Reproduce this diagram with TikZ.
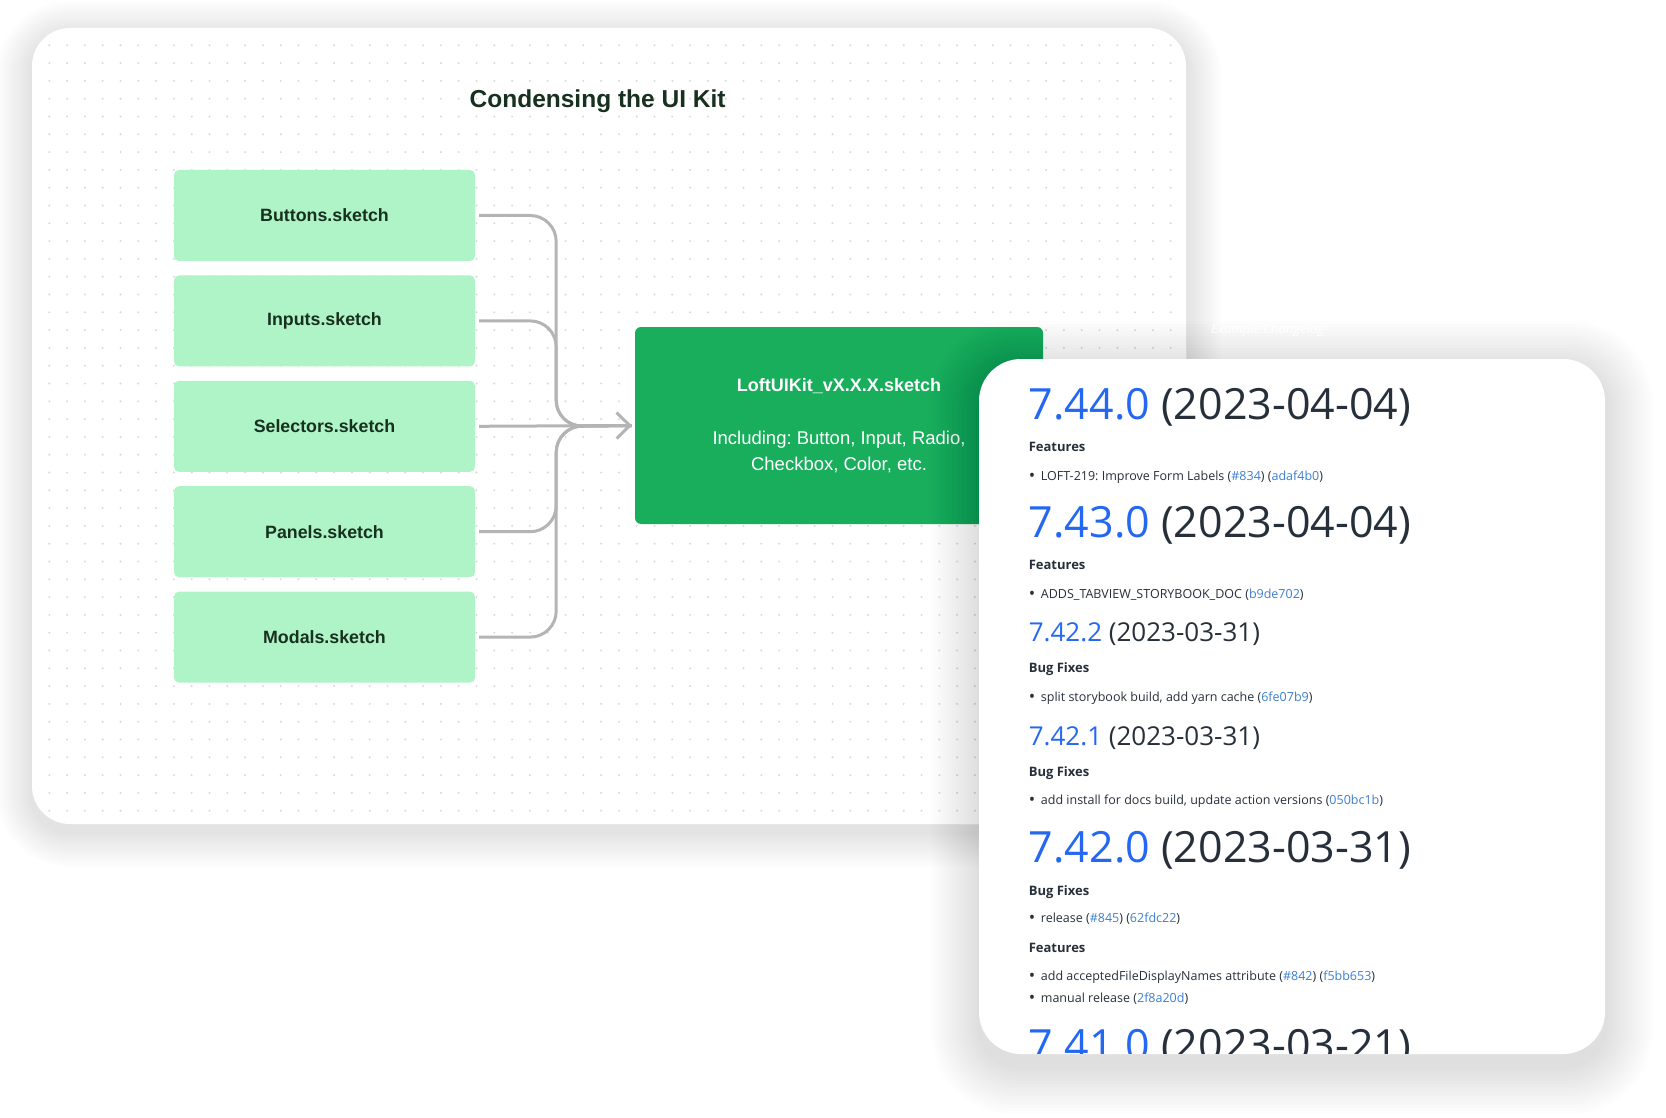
\documentclass[tikz,border=0pt]{standalone}
\usepackage{fontspec}
\setmainfont{Liberation Sans}
\newfontfamily\logfont{Open Sans}
\usetikzlibrary{positioning,arrows.meta}
\frenchspacing

\definecolor{mint}{HTML}{AFF4C6}
\definecolor{kitgreen}{HTML}{18AE5C}
\definecolor{inkgreen}{HTML}{17301F}
\definecolor{wire}{HTML}{B4B4B4}
\definecolor{gridgray}{HTML}{D9D9D9}
\definecolor{verblue}{HTML}{2468F2}
\definecolor{linkblue}{HTML}{3D7FD0}
\definecolor{logink}{HTML}{27303A}

\newcommand{\commit}[1]{\textcolor{linkblue}{#1}}
\newcommand{\ver}[1]{\textcolor{verblue}{#1}}
\newcommand{\bull}{\makebox[12.1pt][l]{\raisebox{-1.2pt}{\fontsize{17}{15}\selectfont•}}}

\tikzset{
  sketch/.style={fill=mint, rounded corners=5pt, minimum width=301pt, minimum height=91pt,
    text=inkgreen, font=\fontsize{17.8}{21}\selectfont\bfseries},
  kitbox/.style={fill=kitgreen, rounded corners=6pt, minimum width=408pt, minimum height=197pt,
    text=white, align=center, inner sep=0pt, font=\fontsize{18.5}{26}\selectfont},
  link/.style={draw=wire, line width=3pt, rounded corners=26pt},
  major/.style={anchor=base west, inner sep=0pt, text=logink, font=\logfont\fontsize{43}{50}\selectfont},
  minor/.style={anchor=base west, inner sep=0pt, text=logink, font=\logfont\fontsize{26}{30}\selectfont},
  sect/.style={anchor=base west, inner sep=0pt, text=logink, font=\logfont\bfseries\fontsize{13}{15}\selectfont},
  entry/.style={anchor=base west, inner sep=0pt, text=logink, font=\logfont\fontsize{12.5}{15}\selectfont}
}

\begin{document}
\begin{tikzpicture}[x=1pt, y=-1pt]
\useasboundingbox (0,0) rectangle (1666,1118);

\foreach \s [evaluate=\s as \r using 38+2.5*\s] in {1,...,14}
  \fill[black, opacity=.009, rounded corners=\r pt] (32-2.5*\s, 36-2.5*\s) rectangle (1186+2.5*\s, 832+2.5*\s);
\fill[white, rounded corners=38pt] (32,28) rectangle (1186,824);
\begin{scope}
  \clip[rounded corners=38pt] (32,28) rectangle (1186,824);
  \foreach \i in {0,...,63}
    \foreach \j in {0,...,43}
      \fill[gridgray] (49.3+17.8*\i, 45.3+17.8*\j) circle (1.1pt);
\end{scope}

\node[text=inkgreen, font=\fontsize{24.5}{28}\selectfont\bfseries] (title) at (597.6,101) {Condensing the UI Kit};

\node[sketch] (buttons) at (324.5,215.5) {Buttons.sketch};
\node[sketch, below=14pt of buttons] (inputs) {Inputs.sketch};
\node[sketch, below=14pt of inputs] (selectors) {Selectors.sketch};
\node[sketch, below=14pt of selectors] (panels) {Panels.sketch};
\node[sketch, below=14pt of panels] (modals) {Modals.sketch};

\node[kitbox] (kit) at (839,425.5) {{\fontsize{18}{26}\selectfont\bfseries LoftUIKit\_vX.X.X.sketch}\\[27pt]
  Including: Button, Input, Radio,\\ Checkbox, Color, etc.};

\coordinate (merge) at ([xshift=81pt]selectors.east);
\draw[link] ([xshift=4pt]buttons.east) -| (merge) -- ([xshift=-3pt]kit.west);
\draw[link] ([xshift=4pt]inputs.east) -| (merge) -- ([xshift=-3pt]kit.west);
\draw[link] ([xshift=4pt]panels.east) -| (merge) -- ([xshift=-3pt]kit.west);
\draw[link] ([xshift=4pt]modals.east) -| (merge) -- ([xshift=-3pt]kit.west);
\draw[link, -{Straight Barb[length=13pt, width=26pt]}] ([xshift=4pt]selectors.east) -- ([xshift=-3pt]kit.west);

\foreach \s [evaluate=\s as \r using 42+2.5*\s] in {1,...,16}
  \fill[black, opacity=.008, rounded corners=\r pt] (979-3*\s, 369-3*\s) rectangle (1605+3*\s, 1066+3*\s);
\node[anchor=base west, inner sep=0pt, text=white, font=\logfont\itshape\fontsize{13}{15}\selectfont] (caption) at (1211,334) {Example Changelog};
\fill[white, rounded corners=42pt] (979,359) rectangle (1605,1054);

\begin{scope}
  \clip[rounded corners=42pt] (979,359) rectangle (1605,1053);
  \node[major] (v744) at (1028.6,419) {\ver{7.44.0} (2023-04-04)};
  \node[sect] (f744) at (1028.6,451.7) {Features};
  \node[entry] (i744) at (1028.6,480) {\bull LOFT-219: Improve Form Labels (\commit{\#834}) (\commit{adaf4b0})};
  \node[major] (v743) at (1028.6,537.3) {\ver{7.43.0} (2023-04-04)};
  \node[sect] (f743) at (1028.6,569.3) {Features};
  \node[entry] (i743) at (1028.6,598.3) {\bull ADDS\_TABVIEW\_STORYBOOK\_DOC (\commit{b9de702})};
  \node[minor] (v7422) at (1028.6,641.7) {\ver{7.42.2} (2023-03-31)};
  \node[sect] (b7422) at (1028.6,672.7) {Bug Fixes};
  \node[entry] (i7422) at (1028.6,701) {\bull split storybook build, add yarn cache (\commit{6fe07b9})};
  \node[minor] (v7421) at (1028.6,745) {\ver{7.42.1} (2023-03-31)};
  \node[sect] (b7421) at (1028.6,776) {Bug Fixes};
  \node[entry] (i7421) at (1028.6,804.3) {\bull add install for docs build, update action versions (\commit{050bc1b})};
  \node[major] (v7420) at (1028.6,862.7) {\ver{7.42.0} (2023-03-31)};
  \node[sect] (b7420) at (1028.6,895) {Bug Fixes};
  \node[entry] (i7420a) at (1028.6,922.7) {\bull release (\commit{\#845}) (\commit{62fdc22})};
  \node[sect] (f7420) at (1028.6,952.3) {Features};
  \node[entry] (i7420b) at (1028.6,980.7) {\bull add acceptedFileDisplayNames attribute (\commit{\#842}) (\commit{f5bb653})};
  \node[entry] (i7420c) at (1028.6,1002) {\bull manual release (\commit{2f8a20d})};
  \node[major] (v7410) at (1028.6,1060) {\ver{7.41.0} (2023-03-21)};
\end{scope}
\end{tikzpicture}
\end{document}
